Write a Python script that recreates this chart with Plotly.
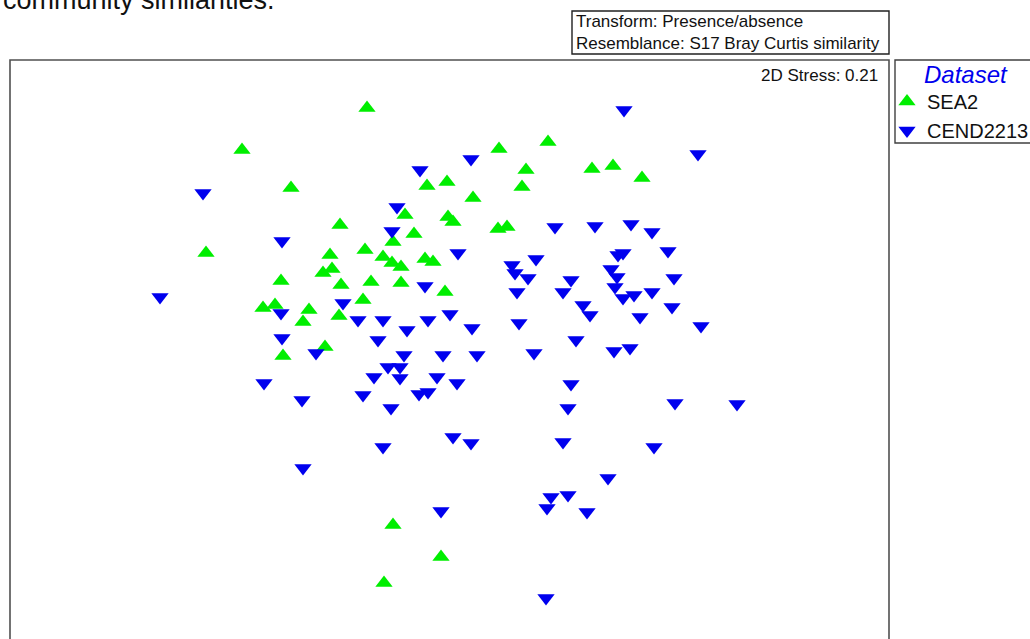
import plotly.graph_objects as go

# nMDS scores (screen-like units; y grows downward)
sea2_x = [367, 242, 291, 206, 499, 548, 592, 613, 642, 526, 522, 447, 427, 473, 405, 448,
          453, 498, 507, 414, 393, 340, 365, 330, 383, 392, 401, 425, 433, 332, 323, 341,
          371, 401, 445, 281, 263, 275, 303, 309, 363, 339, 325, 283, 393, 441, 384]
sea2_y = [108, 150, 188, 253, 149, 142, 169, 166, 178, 170, 187, 182, 186, 198, 215, 217,
          222, 229, 227, 234, 242, 225, 250, 255, 257, 263, 267, 259, 262, 269, 273, 285,
          282, 283, 292, 281, 308, 305, 322, 310, 300, 316, 347, 356, 525, 557, 583]

cend_x = [624, 698, 471, 420, 203, 397, 392, 282, 458, 160, 425, 343, 281, 358, 383, 428,
          450, 407, 472, 378, 282, 316, 404, 443, 477, 388, 400, 374, 400, 437, 457, 264,
          302, 363, 419, 428, 391, 383, 453, 471, 303, 441, 555, 595, 631, 652, 668, 512,
          515, 536, 528, 517, 571, 563, 618, 623, 611, 617, 615, 623, 634, 652, 674, 583,
          590, 672, 640, 701, 519, 576, 614, 630, 534, 571, 568, 675, 737, 563, 654, 608,
          551, 547, 568, 587, 546]
cend_y = [110, 154, 159, 170, 193, 207, 231, 241, 253, 297, 286, 303, 313, 320, 320, 320,
          314, 330, 328, 340, 338, 353, 355, 355, 355, 367, 367, 377, 378, 377, 383, 383,
          400, 395, 394, 392, 408, 447, 437, 443, 468, 511, 227, 226, 224, 232, 251, 265,
          273, 259, 278, 292, 280, 292, 255, 253, 269, 277, 287, 298, 295, 292, 278, 305,
          315, 307, 317, 326, 323, 340, 351, 348, 353, 384, 408, 403, 404, 442, 447, 478,
          497, 508, 495, 512, 598]

series_names = ["SEA2", "CEND2213"]
series_colors = ["#00ee00", "#0000ee"]
series_symbols = ["triangle-up", "triangle-down"]

W, H = 1030, 639
FONT = "Liberation Sans, Arial, sans-serif"


def px(x):
    return x / W


def py(y):
    return 1 - y / H


fig = go.Figure()
for name, xs, ys, col, sym in zip(series_names, [sea2_x, cend_x], [sea2_y, cend_y],
                                  series_colors, series_symbols):
    fig.add_trace(go.Scatter(
        x=xs, y=ys, mode="markers", name=name, legendgroup=name,
        marker=dict(symbol=sym, size=15, color=col, line=dict(width=0)),
        cliponaxis=False,
    ))

shapes = [
    # plot frame (bottom edge runs past the picture)
    dict(type="rect", xref="paper", yref="paper", x0=px(10), x1=px(889), y0=py(720), y1=py(60),
         line=dict(color="#505050", width=1.6), fillcolor="rgba(0,0,0,0)", layer="below"),
    # transform / resemblance box
    dict(type="rect", xref="paper", yref="paper", x0=px(572), x1=px(889), y0=py(54), y1=py(11),
         line=dict(color="#202020", width=1.4), fillcolor="rgba(0,0,0,0)"),
    # legend box
    dict(type="rect", xref="paper", yref="paper", x0=px(895), x1=px(1060), y0=py(143), y1=py(60),
         line=dict(color="#404040", width=1.4), fillcolor="rgba(0,0,0,0)"),
]

annotations = [
    dict(text="community similarities.", xref="paper", yref="paper", x=px(277), y=py(0),
         xanchor="right", yanchor="middle", showarrow=False,
         font=dict(family=FONT, size=27, color="#111111")),
    dict(text="Transform: Presence/absence<br>Resemblance: S17 Bray Curtis similarity",
         xref="paper", yref="paper", x=px(574), y=py(32), xanchor="left", yanchor="middle",
         align="left", showarrow=False, font=dict(family=FONT, size=17, color="#111111")),
    dict(text="2D Stress: 0.21", xref="paper", yref="paper", x=px(880), y=py(75),
         xanchor="right", yanchor="middle", showarrow=False,
         font=dict(family=FONT, size=17, color="#111111")),
    dict(text="Dataset", xref="paper", yref="paper", x=px(966), y=py(74),
         xanchor="center", yanchor="middle", showarrow=False,
         font=dict(family=FONT, size=24, color="#0000ee", style="italic")),
]

fig.update_layout(
    width=W, height=H,
    margin=dict(l=0, r=0, t=0, b=0, autoexpand=False),
    paper_bgcolor="white", plot_bgcolor="white",
    xaxis=dict(range=[0, W], domain=[0, 1], visible=False, fixedrange=True),
    yaxis=dict(range=[H, 0], domain=[0, 1], visible=False, fixedrange=True),
    shapes=shapes, annotations=annotations,
    showlegend=True,
    legend=dict(x=px(887), y=py(82), xanchor="left", yanchor="top",
                bgcolor="rgba(0,0,0,0)", borderwidth=0,
                font=dict(family=FONT, size=20, color="#111111"),
                itemsizing="trace", tracegroupgap=4, traceorder="normal"),
)

fig.write_html(
    "out.html",
    config={"displayModeBar": False},
    post_script="document.body.style.margin='0';document.body.style.overflow='hidden';",
)
